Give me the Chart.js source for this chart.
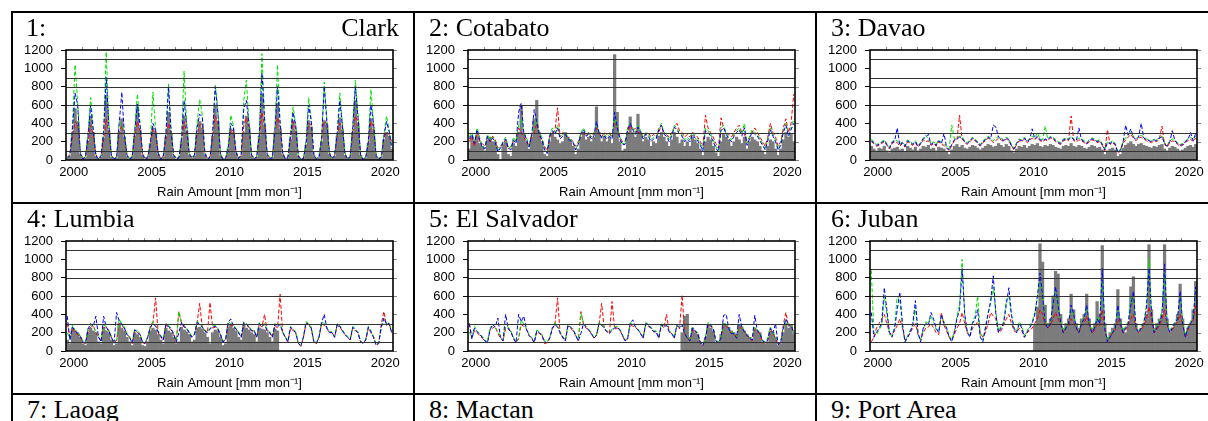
<!DOCTYPE html>
<html><head><meta charset="utf-8">
<script src="https://cdn.jsdelivr.net/npm/chart.js@4"></script>
<style>
html,body{margin:0;padding:0;width:1208px;height:421px;overflow:hidden;background:#fff;}
.cell{position:absolute;width:402px;height:191px;}
.cell canvas{position:absolute;left:0;top:0;}
.t{position:absolute;top:4px;font:26px/26px 'Liberation Serif','Times New Roman',serif;color:#000;white-space:nowrap;z-index:2;}
.hl{position:absolute;left:11px;width:1197px;height:2px;background:#000;z-index:3;}
.vl{position:absolute;top:11px;width:2px;height:410px;background:#000;z-index:3;}
</style></head><body>
<script>
// ---- axis / tick data ----
const startYear = 2000;
const endYear = 2021;
const pointsPerYear = 6;          // two-month means
const tickYears = [2000, 2005, 2010, 2015, 2020];
const yTicks = [0, 200, 400, 600, 800, 1000, 1200];
const refLevels = [100, 300, 600, 800, 900, 1100];
const stationNames = ['Clark','Cotabato','Davao','Lumbia','El Salvador','Juban','Laoag','Mactan','Port Area'];
const N = null;

// ---- 1: Clark ----
const clarkGauge = [
15,40,280,560,420,60, 10,25,210,480,300,40, 5,30,240,700,320,30, 10,20,300,450,250,40,
5,35,260,580,330,50, 10,20,180,350,300,60, 5,30,250,520,280,40, 10,15,200,480,310,50,
20,40,280,420,350,60, 10,25,260,600,420,50, 5,10,120,340,300,70, 15,40,300,480,350,40,
10,30,260,720,380,50, 15,20,300,620,340,60, 10,20,220,430,320,40, 5,15,160,430,360,50,
10,25,200,430,380,60, 15,40,260,460,330,50, 10,30,300,650,400,50, 5,20,180,450,330,40,
10,25,220,300,260,120];
const clarkRed = [
30,60,250,420,380,90, 20,40,200,380,280,60, 15,50,220,450,300,50, 20,30,300,380,260,60,
15,40,260,420,320,70, 20,30,160,340,300,80, 15,45,220,400,280,60, 20,25,200,420,300,70,
30,55,280,380,400,80, 15,35,240,480,420,70, 10,20,130,330,320,90, 20,50,380,460,360,60,
15,40,260,520,380,70, 20,30,300,460,360,80, 15,30,240,420,340,50, 10,20,170,400,380,60,
15,35,220,420,400,80, 20,50,260,400,350,70, 15,40,300,480,420,60, 10,30,190,420,360,50,
15,35,240,300,280,200];
const clarkGreen = [
10,60,380,1040,630,90, 5,40,300,680,350,50, 10,50,320,1180,400,40, 20,30,420,380,300,60,
10,40,350,720,420,70, 15,30,200,740,350,80, 10,50,300,830,330,60, 20,20,250,970,400,70,
30,60,400,660,500,80, 10,40,300,820,560,70, 10,15,150,490,380,90, 20,60,650,870,420,60,
15,40,300,1160,480,70, 20,30,350,1040,420,80, 15,30,300,580,400,50, 10,20,200,680,450,60,
15,40,250,850,450,80, 20,60,300,730,400,70, 15,40,380,870,500,60, 10,30,220,770,420,50,
15,40,280,480,330,150];
const clarkBlue = [
20,50,330,730,600,70, 10,35,260,600,320,50, 5,40,300,900,380,40, 15,25,400,740,280,50,
10,30,320,610,380,60, 10,25,180,400,330,70, 5,40,280,800,300,50, 15,20,220,650,380,60,
25,50,350,500,470,70, 10,30,280,800,520,60, 5,10,130,400,360,80, 15,50,560,650,400,50,
10,35,280,950,450,60, 15,25,320,800,400,70, 10,25,260,520,380,40, 5,15,180,600,420,50,
10,30,230,800,420,70, 15,50,280,650,380,60, 10,35,350,800,470,50, 5,25,200,600,400,40,
10,30,250,420,310,130];

// ---- 2: Cotabato ----
const cotabatoGauge = [
120,250,200,260,180,150, 100,220,250,200,190,60, N,170,200,60,40,180, 150,300,600,280,200,120,
250,450,650,300,200,60, 40,200,280,250,220,180, 200,300,250,220,150,60, 120,250,300,220,250,200,
250,580,300,200,260,200, 250,180,1150,520,200,100, 120,300,470,300,250,500, 300,200,250,220,150,200,
180,260,300,250,200,150, 220,300,250,180,220,150, 200,150,250,220,180,120, 50,200,250,220,150,80,
40,200,280,250,220,150, 200,250,220,180,250,120, 200,250,220,200,150,100, 60,150,220,200,120,50,
120,220,300,250,280,200];
const cotabatoRed = [
200,260,150,300,200,180, 150,250,200,260,220,130, 150,180,220,120,150,200, 200,350,300,250,200,150,
260,300,400,250,230,150, 100,250,300,320,570,250, 300,280,250,230,200,150, 200,280,300,260,300,250,
300,350,280,250,300,280, 300,250,400,350,250,200, 200,300,380,320,350,300, 300,250,280,300,250,280,
250,300,380,300,280,250, 300,350,400,320,300,250, 280,250,300,280,250,200, 150,490,350,300,250,180,
130,460,350,300,280,250, 300,350,380,300,280,200, 250,300,350,300,250,200, 150,250,400,300,250,150,
200,350,450,300,400,720];
const cotabatoGreen = [
250,300,200,350,250,150, 130,280,220,250,200,100, 150,200,250,150,120,250, 200,380,450,300,250,150,
280,350,450,300,250,120, 80,280,350,300,380,250, 280,300,250,220,200,120, 180,300,350,280,300,250,
280,400,300,250,280,250, 280,250,450,380,250,180, 180,350,400,350,300,380, 320,250,300,280,220,250,
250,350,400,300,280,220, 280,380,350,300,280,220, 250,220,300,260,230,180, 120,350,320,280,220,150,
100,350,380,300,250,220, 280,320,350,280,400,180, 250,330,300,280,230,180, 120,230,350,280,220,120,
180,320,400,280,350,450];
const cotabatoBlue = [
230,280,180,330,220,140, 120,260,200,240,190,90, 130,190,230,130,110,220, 180,520,620,300,230,140,
260,550,420,280,220,110, 70,260,320,280,350,230, 260,280,230,210,190,110, 170,280,330,260,280,230,
260,420,300,240,260,230, 260,230,520,360,230,170, 170,330,400,330,280,360, 300,230,280,260,200,230,
230,330,380,280,260,200, 260,360,330,280,260,200, 230,200,280,240,210,160, 100,320,300,260,200,130,
90,320,350,280,230,200, 260,300,330,260,350,160, 230,310,280,260,210,160, 110,210,330,260,200,110,
160,300,380,260,330,400];

// ---- 3: Davao ----
const davaoGauge = [
150,120,100,130,120,150, 100,80,120,130,140,110, 120,90,150,130,110,140, 100,120,150,140,160,120,
130,100,140,130,120,90, 60,110,150,170,140,160, 130,120,140,160,150,130, 110,130,150,170,160,140,
150,180,160,140,170,150, 100,80,120,150,140,160, 130,150,170,160,180,150, 140,160,150,170,160,140,
130,120,150,160,150,180, 150,140,160,150,130,120, 140,160,150,130,140,110, 60,100,120,130,110,40,
60,130,160,180,200,170, 150,170,180,160,150,140, 130,150,140,160,170,120, 100,130,150,140,120,100,
110,130,150,160,140,170];
const davaoRed = [
200,180,150,160,180,200, 160,120,180,200,190,150, 180,140,200,180,160,190, 140,170,220,200,210,160,
180,150,200,170,160,130, 100,160,210,220,490,230, 190,170,200,230,210,180, 150,190,210,240,220,190,
210,240,220,200,230,210, 150,110,170,210,200,230, 190,210,240,220,250,210, 200,220,210,240,230,200,
180,170,210,220,210,480, 210,200,220,210,190,170, 200,220,210,190,200,160, 100,330,170,190,160,70,
100,180,220,250,280,240, 210,240,250,230,210,200, 190,210,200,230,370,170, 140,190,210,200,170,150,
160,190,210,230,200,240];
const davaoGreen = [
230,200,170,180,200,220, 180,140,200,220,210,170, 200,160,220,200,180,210, 160,190,240,270,230,180,
200,170,220,190,180,150, 120,380,230,240,260,250, 210,190,220,250,230,200, 170,210,230,260,240,210,
230,260,240,220,250,230, 170,130,190,230,220,250, 210,230,260,240,300,230, 220,370,230,260,250,220,
200,190,230,240,230,260, 230,220,240,230,210,190, 220,240,230,210,220,180, 120,200,190,210,180,90,
120,200,240,280,300,260, 230,260,270,250,230,220, 210,230,220,250,260,190, 160,210,230,220,190,170,
180,210,230,250,220,260];
const davaoBlue = [
210,190,160,170,190,210, 170,130,190,210,350,160, 190,150,210,190,170,200, 150,180,230,250,280,170,
190,160,210,180,290,140, 110,170,220,230,250,240, 200,180,210,240,220,190, 160,200,220,250,230,380,
360,250,230,210,240,220, 160,120,180,220,210,240, 200,220,340,230,260,220, 210,230,220,250,240,210,
190,180,220,230,220,250, 220,210,350,220,200,180, 210,230,220,200,210,170, 110,190,180,200,170,80,
110,190,380,270,340,250, 220,250,400,240,220,210, 200,220,210,240,250,180, 150,200,320,210,180,160,
170,200,220,300,210,290];

// ---- 4: Lumbia ----
const lumbiaGauge = [
120,80,250,220,200,150, 80,60,200,250,220,200, 100,80,250,220,200,120, 60,80,300,250,220,150,
100,60,200,180,150,60, 50,100,220,250,230,180, 120,80,250,220,200,150, 80,100,260,230,210,180,
100,120,250,260,240,200, 150,80,200,230,220,150, 60,80,260,280,250,220, 150,120,280,250,230,200,
180,100,250,240,230,200, 150,100,240,220,N,N];
const lumbiaRed = [
300,150,250,200,180,150, 100,80,220,260,280,200, 150,100,260,250,220,150, 80,120,300,280,250,180,
150,80,220,200,180,90, 80,150,250,300,580,200, 150,120,280,260,230,180, 100,430,300,260,240,200,
150,180,300,520,260,220, 200,530,250,260,240,180, 100,120,300,280,270,240, 200,150,300,280,260,220,
220,150,290,260,400,220, 200,150,280,250,620,200, 150,100,250,220,200,80, 50,150,300,280,250,100,
80,150,300,280,250,200, 200,150,280,260,220,180, 150,120,250,220,200,100, 80,120,250,200,150,60,
80,300,430,280,300,200];
const lumbiaGreen = [
200,130,280,230,200,170, 110,90,250,280,260,220, 170,110,280,270,230,160, 90,130,350,300,260,190,
160,90,240,220,190,100, 90,160,270,320,280,220, 170,130,300,280,250,190, 110,430,320,280,250,210,
160,190,320,300,270,230, 210,250,270,280,250,190, 110,130,320,300,280,250, 210,160,320,300,270,230,
230,160,310,280,300,230, 210,160,300,270,300,210, 160,110,270,240,210,90, 60,160,320,300,260,110,
90,160,320,300,260,210, 210,160,300,280,230,190, 160,130,270,240,210,110, 90,130,270,220,160,70,
90,250,350,300,310,210];
const lumbiaBlue = [
380,120,260,220,190,160, 100,85,240,300,270,380, 160,100,380,260,220,150, 85,420,330,290,250,180,
150,85,230,210,180,95, 85,150,260,300,270,210, 160,120,290,270,240,180, 100,200,310,270,240,200,
150,180,310,290,260,220, 200,240,260,270,240,180, 100,120,310,350,270,240, 200,150,310,290,260,220,
220,150,300,270,290,220, 200,150,290,260,290,200, 150,100,260,230,200,85, 55,150,310,290,250,100,
85,150,310,400,250,200, 200,150,290,270,220,180, 150,120,260,230,200,100, 85,120,260,210,150,65,
85,270,360,290,300,200];

// ---- 5: El Salvador ----
const elSalvadorGauge = [
N,N,N,N,N,N, N,N,N,N,N,N, N,N,N,N,N,N, N,N,N,N,N,N, N,N,N,N,N,N, N,N,N,N,N,N, N,N,N,N,N,N,
N,N,N,N,N,N, N,N,N,N,N,N, N,N,N,N,N,N, N,N,N,N,N,N, N,N,N,N,N,N, N,N,N,N,N,N, N,N,N,N,200,380,
400,150,250,200,180,100, 60,150,280,250,220,100, 100,180,300,280,260,220, 200,180,280,260,220,180,
150,120,250,220,200,100, 80,100,220,200,150,60, 80,200,300,250,280,180];
const elSalvadorRed = [
300,150,220,200,170,140, 110,90,230,250,270,190, 140,110,250,240,210,140, 90,130,290,270,240,170,
140,90,210,190,170,80, 90,140,240,290,580,190, 140,110,270,250,220,170, 110,430,290,250,230,190,
140,170,290,520,250,210, 190,540,240,250,230,170, 110,130,290,270,260,230, 190,140,290,270,250,210,
210,140,280,250,400,210, 190,140,270,240,610,190, 140,110,240,210,190,90, 60,140,290,270,240,110,
90,140,290,270,240,190, 190,140,270,250,210,170, 140,110,240,210,190,90, 90,110,240,190,140,70,
90,290,420,270,290,190];
const elSalvadorGreen = [
210,140,270,220,190,160, 120,100,260,270,250,210, 160,120,270,260,220,150, 100,140,340,290,250,180,
150,100,230,210,180,110, 100,150,260,310,270,210, 160,120,290,270,240,180, 120,410,310,270,240,200,
150,180,310,290,260,220, 200,240,260,270,240,180, 120,140,310,290,270,240, 200,150,310,290,260,220,
220,150,300,270,290,220, 200,150,290,260,290,200, 150,120,260,230,200,100, 70,150,310,290,250,120,
100,150,310,290,250,200, 200,150,290,270,220,180, 150,140,260,230,200,120, 100,140,260,210,150,80,
100,240,340,290,300,200];
const elSalvadorBlue = [
300,130,250,210,180,150, 110,90,230,290,260,360, 150,110,400,250,210,140, 90,400,320,380,240,170,
140,90,220,200,170,100, 90,140,250,290,260,200, 150,110,280,260,230,170, 110,190,300,260,230,190,
140,170,300,280,250,210, 190,230,250,260,230,170, 110,130,300,340,260,230, 190,140,300,280,250,210,
210,140,290,260,280,210, 190,140,280,250,280,190, 140,110,250,220,190,90, 60,140,300,280,240,110,
90,140,390,400,240,190, 190,140,400,260,210,170, 140,120,390,220,190,110, 90,120,250,200,300,70,
90,260,350,280,290,190];

// ---- 6: Juban ----
const jubanGauge = [
N,N,N,N,N,N, N,N,N,N,N,N, N,N,N,N,N,N, N,N,N,N,N,N, N,N,N,N,N,N, N,N,N,N,N,N, N,N,N,N,N,N,
N,N,N,N,N,N, N,N,N,N,N,N, N,N,N,N,N,N,
N,N,N,280,480,1170, 970,500,300,350,600,870, 840,400,250,300,350,620, 450,300,250,350,400,620,
350,250,300,540,400,1150, 300,150,200,250,300,670, 350,250,200,300,700,810, 300,200,250,300,400,1160,
450,250,300,350,400,1160, 350,200,250,300,400,730, 350,200,250,300,450,760];
const jubanRed = [
100,150,250,300,350,400, 300,200,180,220,280,350, 250,120,150,200,250,300, 180,120,200,250,260,300,
250,200,180,420,280,220, 150,120,180,250,300,420, 300,200,160,250,280,320, 200,150,200,300,420,380,
350,200,220,280,350,400, 300,220,200,250,220,150, 200,220,250,300,350,450, 400,280,250,280,350,420,
350,280,200,250,280,350, 300,250,200,280,300,380, 280,200,220,300,280,450, 220,120,150,200,230,350,
280,200,230,280,350,400, 250,200,230,280,350,480, 350,200,230,280,350,450, 280,200,230,280,320,400,
280,150,230,300,320,500];
const jubanGreen = [
880,200,180,230,280,600, 400,180,170,270,600,550, 280,90,170,230,280,480, 180,120,230,320,300,380,
320,230,220,380,320,260, 170,120,220,380,500,1000, 380,220,170,320,380,600, 170,120,270,420,520,700,
420,220,270,320,560,600, 380,230,220,320,270,170, 220,270,320,420,580,750, 650,320,270,320,520,650,
480,320,220,270,320,450, 380,270,220,320,370,480, 320,220,270,370,320,800, 270,120,170,220,270,450,
320,220,270,320,600,600, 270,220,270,320,500,1000, 420,220,270,320,420,850, 320,220,270,320,370,600,
320,170,270,320,380,650];
const jubanBlue = [
420,150,200,250,300,690, 450,200,150,250,450,640, 300,100,150,200,300,550, 200,100,250,300,280,420,
350,250,200,400,300,250, 150,100,200,350,450,900, 400,200,150,300,350,450, 150,100,250,400,550,820,
400,200,250,300,500,690, 400,250,200,300,250,150, 200,250,300,400,600,850, 600,300,250,300,500,700,
500,300,200,250,300,500, 400,250,200,300,350,500, 300,200,250,350,300,900, 250,100,150,200,250,500,
300,200,250,300,500,650, 250,200,250,300,450,900, 400,200,250,300,400,950, 300,200,250,300,350,650,
300,150,250,300,350,700];

const panelSeries = [
  [clarkGauge, clarkRed, clarkGreen, clarkBlue],
  [cotabatoGauge, cotabatoRed, cotabatoGreen, cotabatoBlue],
  [davaoGauge, davaoRed, davaoGreen, davaoBlue],
  [lumbiaGauge, lumbiaRed, lumbiaGreen, lumbiaBlue],
  [elSalvadorGauge, elSalvadorRed, elSalvadorGreen, elSalvadorBlue],
  [jubanGauge, jubanRed, jubanGreen, jubanBlue]
];

// ---- layout ----
const CELL_W = 402, CELL_H = 191, ORIGIN_X = 11, ORIGIN_Y = 11;
const body = document.body;
function addDiv(cls, style, text) {
  const d = document.createElement('div');
  d.className = cls; Object.assign(d.style, style);
  if (text !== undefined) d.textContent = text;
  body.appendChild(d); return d;
}
[0,1,2].forEach(r => addDiv('hl', {top: (ORIGIN_Y + r*CELL_H) + 'px'}));
[0,1,2].forEach(c => addDiv('vl', {left: (ORIGIN_X + c*CELL_W) + 'px'}));

const toPoints = arr => arr.map((v, i) => ({x: startYear + (i + 0.5) / pointsPerYear, y: v}));

const framePlugin = {
  id: 'frame',
  afterDatasetsDraw(chart) {
    const {ctx, chartArea: a, scales: {x, y}} = chart;
    ctx.save();
    ctx.strokeStyle = '#333'; ctx.lineWidth = 1;
    refLevels.forEach(v => {
      const py = Math.round(y.getPixelForValue(v)) + 0.5;
      ctx.beginPath(); ctx.moveTo(a.left, py); ctx.lineTo(a.right, py); ctx.stroke();
    });
    // small outward ticks on the top (yearly) and right (y ticks) edges
    ctx.strokeStyle = '#888'; ctx.lineWidth = 1;
    for (let yr = startYear + 1; yr < endYear; yr++) {
      const px = Math.round(x.getPixelForValue(yr)) + 0.5;
      ctx.beginPath(); ctx.moveTo(px, a.top); ctx.lineTo(px, a.top - 3); ctx.stroke();
    }
    yTicks.forEach(v => {
      const py = Math.round(y.getPixelForValue(v)) + 0.5;
      ctx.beginPath(); ctx.moveTo(a.right, py); ctx.lineTo(a.right + 4, py); ctx.stroke();
    });
    ctx.strokeStyle = '#000'; ctx.lineWidth = 1.6;
    ctx.strokeRect(a.left, a.top, a.right - a.left, a.bottom - a.top);
    ctx.restore();
  }
};

const sansFont = {family: "'Liberation Sans', Arial, sans-serif", size: 13};

stationNames.forEach((name, i) => {
  const r = Math.floor(i / 3), c = i % 3;
  const cell = addDiv('cell', {left: (ORIGIN_X + c*CELL_W) + 'px', top: (ORIGIN_Y + r*CELL_H) + 'px'});
  if (i === 0) {
    const a = document.createElement('div'); a.className = 't'; a.style.left = '15px'; a.textContent = '1:'; cell.appendChild(a);
    const b = document.createElement('div'); b.className = 't'; b.style.right = '14px'; b.textContent = name; cell.appendChild(b);
  } else {
    const a = document.createElement('div'); a.className = 't'; a.style.left = '16px'; a.textContent = (i + 1) + ': ' + name; cell.appendChild(a);
  }
  if (i >= panelSeries.length) return;
  const [gauge, red, green, blue] = panelSeries[i];
  const cv = document.createElement('canvas');
  cv.width = CELL_W; cv.height = CELL_H;
  cell.appendChild(cv);
  const lineDs = (data, color, order) => ({
    type: 'line', data: toPoints(data), borderColor: color, borderWidth: 1,
    borderDash: [4, 2], pointRadius: 0, tension: 0, spanGaps: false, order
  });
  new Chart(cv, {
    type: 'bar',
    data: { datasets: [
      {type: 'bar', data: toPoints(gauge), backgroundColor: '#7c7c7c', borderWidth: 0,
       barPercentage: 1, categoryPercentage: 1, order: 4},
      lineDs(red, '#ff0000', 3),
      lineDs(green, '#00e000', 2),
      lineDs(blue, '#0000ff', 1)
    ]},
    options: {
      responsive: false, animation: false, events: [],
      layout: {padding: {top: 39, right: 20, left: 0, bottom: 0}},
      plugins: {legend: {display: false}, tooltip: {enabled: false}},
      scales: {
        x: {
          type: 'linear', min: startYear, max: endYear, offset: false,
          grid: {display: false, drawTicks: false}, border: {display: false},
          afterBuildTicks: s => { s.ticks = tickYears.map(y => ({value: y + 0.5})); },
          ticks: {callback: v => String(Math.floor(v)), font: sansFont, color: '#000', padding: 5,
                  maxRotation: 0, autoSkip: false},
          title: {display: true, text: 'Rain Amount [mm mon⁻¹]', font: sansFont, color: '#000',
                  padding: {top: 0, bottom: 2}},
          afterFit: s => { s.height = 42; }
        },
        y: {
          min: 0, max: 1200,
          afterBuildTicks: s => { s.ticks = yTicks.map(v => ({value: v})); },
          ticks: {font: sansFont, color: '#000', padding: 8, autoSkip: false, callback: v => String(v)},
          grid: {drawOnChartArea: false, drawTicks: true, tickLength: 5, color: '#000'},
          border: {display: false},
          afterFit: s => { s.width = 55; }
        }
      }
    },
    plugins: [framePlugin]
  });
});
</script>
</body></html>
